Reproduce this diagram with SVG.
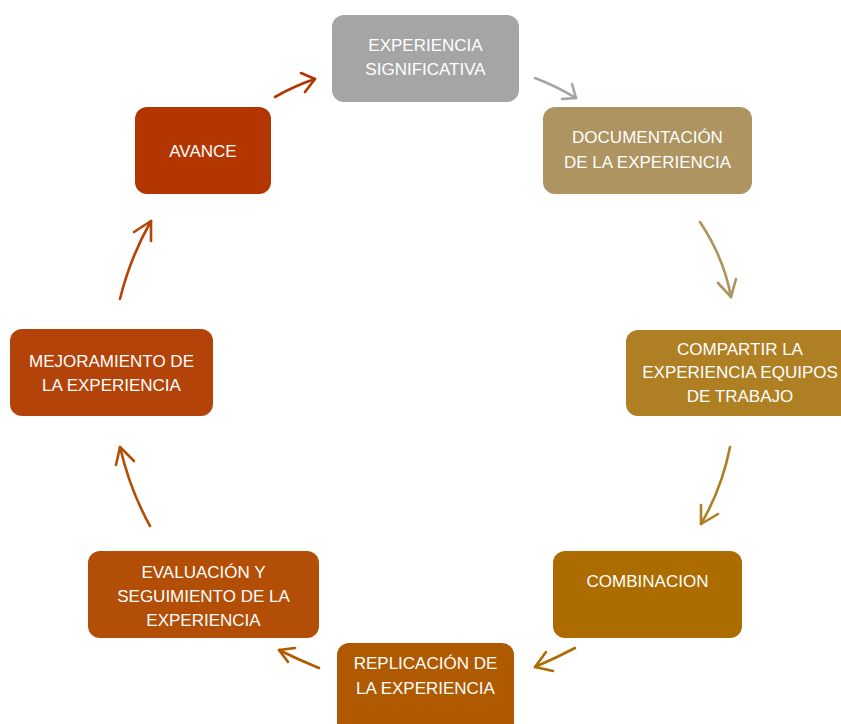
<svg xmlns="http://www.w3.org/2000/svg" width="841" height="724" viewBox="0 0 841 724">
  <defs>
    <style>
      .box text { font-family: "Liberation Sans", "Noto Sans", sans-serif; font-size: 17px; fill: #ffffff; text-anchor: middle; }
      .arrow { fill: none; stroke-width: 2.6; stroke-linecap: round; stroke-linejoin: round; }
    </style>
  </defs>
  <rect width="841" height="724" fill="#ffffff"/>

  <g id="connectors">
    <!-- AVANCE -> EXPERIENCIA SIGNIFICATIVA -->
    <g stroke="#b33600" class="arrow"><path d="M275,97 Q294,86 315,79"/><path d="M301,73 L315,79 L305,92"/></g>
    <!-- EXPERIENCIA SIGNIFICATIVA -> DOCUMENTACION -->
    <g stroke="#a5a5a5" class="arrow"><path d="M535,78 Q556,86 576,98"/><path d="M572,84 L576,98 L562,99"/></g>
    <!-- DOCUMENTACION -> COMPARTIR -->
    <g stroke="#ad9460" class="arrow"><path d="M700,222 Q724,258 731,297"/><path d="M718,283 L731,297 L736,279"/></g>
    <!-- COMPARTIR -> COMBINACION -->
    <g stroke="#af7f24" class="arrow"><path d="M730,447 Q722,488 701,524"/><path d="M701,505 L701,524 L718,514"/></g>
    <!-- COMBINACION -> REPLICACION -->
    <g stroke="#ac6c00" class="arrow"><path d="M575,648 Q556,658 535,667"/><path d="M546,652 L535,667 L553,671"/></g>
    <!-- REPLICACION -> EVALUACION -->
    <g stroke="#b05a00" class="arrow"><path d="M319,668 Q299,660 279,650"/><path d="M295,648 L279,650 L288,662"/></g>
    <!-- EVALUACION -> MEJORAMIENTO -->
    <g stroke="#b34e06" class="arrow"><path d="M150,526 Q130,490 120,447"/><path d="M116,465 L120,447 L134,461"/></g>
    <!-- MEJORAMIENTO -> AVANCE -->
    <g stroke="#b4430a" class="arrow"><path d="M120,299 Q130,258 151,221"/><path d="M134,232 L151,221 L151,241"/></g>
  </g>

  <g id="n1" class="box">
    <rect x="332" y="15" width="187" height="87" rx="12" fill="#a5a5a5"/>
    <text x="425.5" y="51">EXPERIENCIA</text>
    <text x="425.5" y="75">SIGNIFICATIVA</text>
  </g>
  <g id="n2" class="box">
    <rect x="543" y="107" width="209" height="87" rx="12" fill="#ad9460"/>
    <text x="647.5" y="143">DOCUMENTACIÓN</text>
    <text x="647.5" y="168">DE LA EXPERIENCIA</text>
  </g>
  <g id="n3" class="box">
    <rect x="626" y="330" width="230" height="86" rx="12" fill="#af7f24"/>
    <text x="740" y="355">COMPARTIR LA</text>
    <text x="740" y="378">EXPERIENCIA EQUIPOS</text>
    <text x="740" y="402">DE TRABAJO</text>
  </g>
  <g id="n4" class="box">
    <rect x="553" y="551" width="189" height="87" rx="12" fill="#ac6c00"/>
    <text x="647.5" y="587">COMBINACION</text>
  </g>
  <g id="n5" class="box">
    <rect x="337" y="643" width="177" height="95" rx="12" fill="#b05a00"/>
    <text x="425.5" y="669">REPLICACIÓN DE</text>
    <text x="425.5" y="694">LA EXPERIENCIA</text>
  </g>
  <g id="n6" class="box">
    <rect x="88" y="551" width="231" height="87" rx="12" fill="#b34e06"/>
    <text x="203.5" y="578">EVALUACIÓN Y</text>
    <text x="203.5" y="602">SEGUIMIENTO DE LA</text>
    <text x="203.5" y="626">EXPERIENCIA</text>
  </g>
  <g id="n7" class="box">
    <rect x="10" y="329" width="203" height="87" rx="12" fill="#b4430a"/>
    <text x="111.5" y="367">MEJORAMIENTO DE</text>
    <text x="111.5" y="391">LA EXPERIENCIA</text>
  </g>
  <g id="n8" class="box">
    <rect x="135" y="107" width="136" height="87" rx="12" fill="#b33600"/>
    <text x="203" y="157">AVANCE</text>
  </g>
</svg>
